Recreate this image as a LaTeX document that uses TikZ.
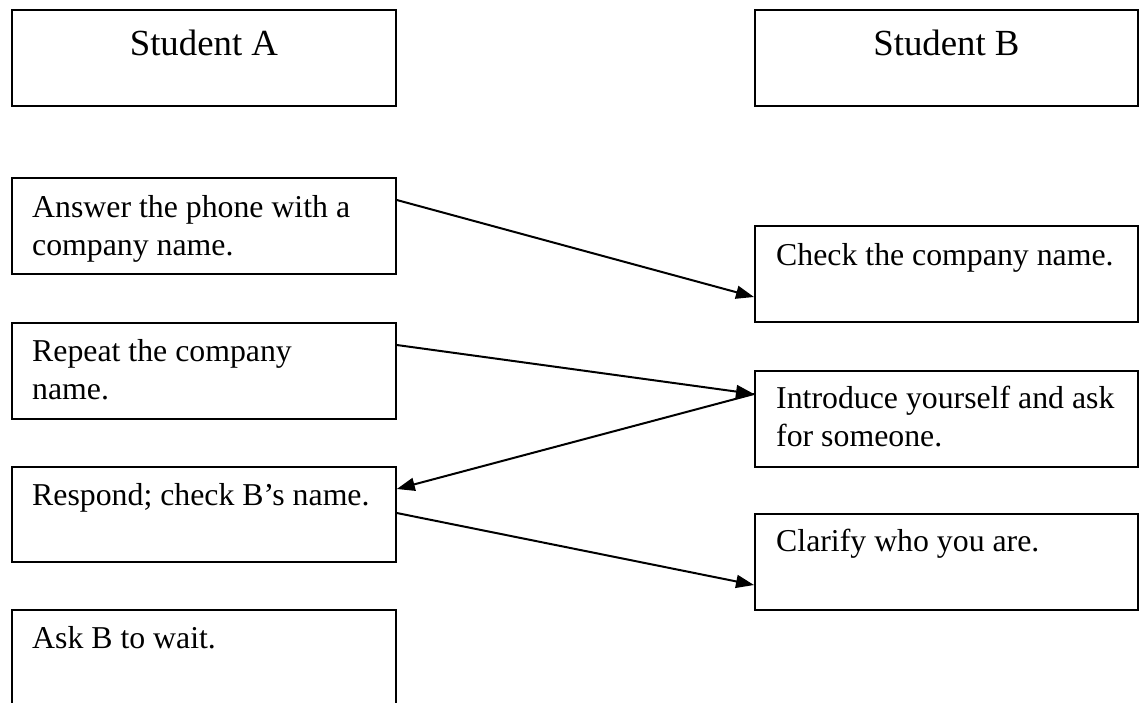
\documentclass[tikz,border=0pt]{standalone}
\usepackage{fontspec}
\setmainfont{Liberation Serif}
\usetikzlibrary{arrows.meta}
\begin{document}
\begin{tikzpicture}[x=1pt,y=-1pt,
  box/.style={draw,line width=1.8pt,inner sep=0pt,anchor=north west,minimum width=384pt,minimum height=96pt},
  rbox/.style={box,minimum width=383pt},
  head/.style={anchor=base,inner sep=0pt,font=\fontsize{36.8}{42}\selectfont},
  body/.style={anchor=base west,inner sep=0pt,align=left,font=\fontsize{31.8}{38}\selectfont},
  conn/.style={line width=2pt,-{Triangle[length=18pt,width=13pt]}}]
\useasboundingbox (0,0) rectangle (1139,702);
\clip (0,0) rectangle (1139,702);
% header boxes
\node[box] (SA) at (11,9) {};
\node[rbox] (SB) at (754,9) {};
\node[head] (tSA) at ([yshift=-46pt]SA.north) {Student A};
\node[head] (tSB) at ([yshift=-46pt]SB.north) {Student B};
% left column
\node[box] (A1) at (11,177) {};
\node[box] (A2) at (11,322) {};
\node[box,minimum height=95pt] (A3) at (11,466) {};
\node[box,minimum height=110pt] (A4) at (11,609) {};
% right column
\node[rbox] (R1) at (754,225) {};
\node[rbox] (R2) at (754,370) {};
\node[rbox] (R3) at (754,513) {};
% texts (base anchor of two-line nodes sits on the second line)
\node[body] (tA1) at ([xshift=21pt,yshift=-78pt]A1.north west) {Answer the phone with a\\company name.};
\node[body] (tA2) at ([xshift=21pt,yshift=-77pt]A2.north west) {Repeat the company\\name.};
\node[body] (tA3) at ([xshift=21pt,yshift=-39pt]A3.north west) {Respond; check B’s name.};
\node[body] (tA4) at ([xshift=21pt,yshift=-39pt]A4.north west) {Ask B to wait.};
\node[body] (tR1) at ([xshift=22pt,yshift=-40pt]R1.north west) {Check the company name.};
\node[body] (tR2) at ([xshift=22pt,yshift=-76pt]R2.north west) {Introduce yourself and ask\\for someone.};
\node[body] (tR3) at ([xshift=22pt,yshift=-38pt]R3.north west) {Clarify who you are.};
% connectors
\draw[conn] ([yshift=-23pt]A1.north east) -- ([yshift=-72pt]R1.north west);
\draw[conn] ([yshift=-23pt]A2.north east) -- ([yshift=-24pt]R2.north west);
\draw[conn] ([yshift=-24pt]R2.north west) -- ([yshift=-23pt]A3.north east);
\draw[conn] ([yshift=-47pt]A3.north east) -- ([yshift=-72pt]R3.north west);
\end{tikzpicture}
\end{document}
